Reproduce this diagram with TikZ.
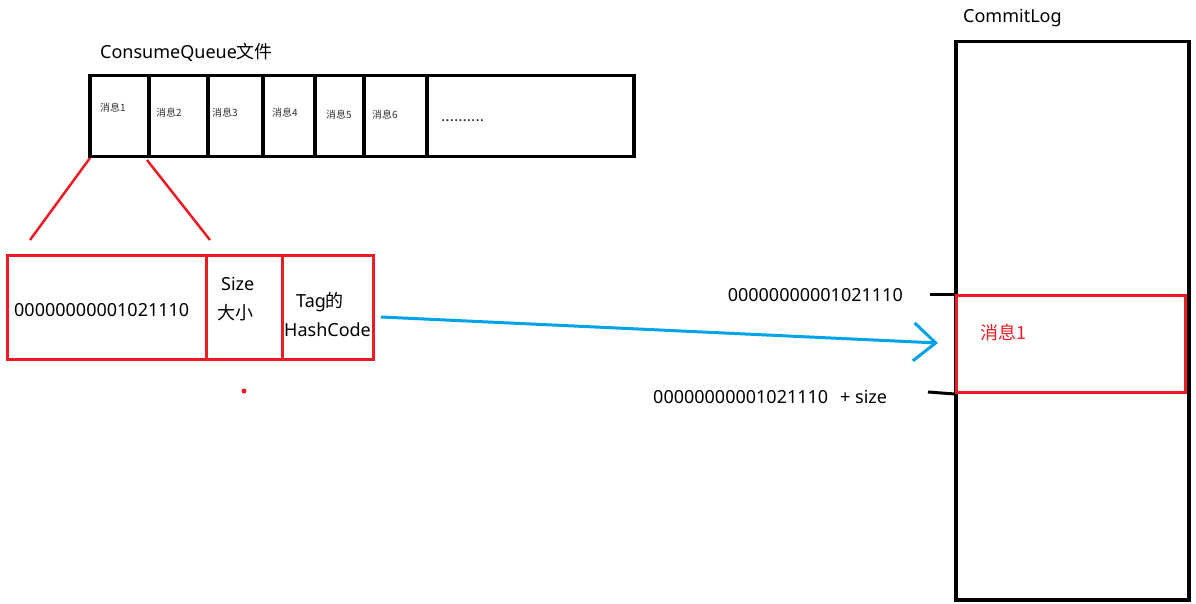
\documentclass[tikz,border=0pt]{standalone}
\usepackage{fontspec}
\setmainfont{Noto Sans}
\newfontfamily\cjk{Noto Sans CJK SC}
\usetikzlibrary{arrows.meta}
\definecolor{pred}{RGB}{237,28,36}
\definecolor{pblue}{RGB}{0,162,232}
\tikzset{
  qcell/.style={draw=black,line width=3.5pt,inner sep=0pt,minimum height=81pt,anchor=north west},
  rcell/.style={draw=pred,line width=3pt,inner sep=0pt,minimum height=104pt,anchor=north west},
  lbl/.style={inner sep=0pt,anchor=west,font=\fontsize{18}{20}\selectfont},
  small/.style={inner sep=0pt,anchor=west,font=\fontsize{10}{12}\selectfont,text=black!80},
  redline/.style={draw=pred,line width=2.5pt},
  tick/.style={draw=black,line width=3pt}
}
\begin{document}
\begin{tikzpicture}[x=1pt,y=-1pt]
\useasboundingbox[fill=white] (0,0) rectangle (1196,604);
% ConsumeQueue
\node[lbl] (cqt) at (100,52) {ConsumeQueue{\cjk 文件}};
\node[qcell,minimum width=59pt] (q1) at (88,74) {};
\node[qcell,minimum width=59pt] (q2) at (147,74) {};
\node[qcell,minimum width=55pt] (q3) at (206,74) {};
\node[qcell,minimum width=52pt] (q4) at (261,74) {};
\node[qcell,minimum width=49pt] (q5) at (313,74) {};
\node[qcell,minimum width=63pt] (q6) at (362,74) {};
\node[qcell,minimum width=207pt] (q7) at (425,74) {};
\node[small] (m1) at (100,108) {\cjk 消息1};
\node[small] (m2) at (156,113) {\cjk 消息2};
\node[small] (m3) at (212,113) {\cjk 消息3};
\node[small] (m4) at (272,113) {\cjk 消息4};
\node[small] (m5) at (326,115) {\cjk 消息5};
\node[small] (m6) at (372,115) {\cjk 消息6};
\node[small,font=\fontsize{16}{18}\selectfont] (dots) at (441,121) {..........};
% red detail
\node[rcell,minimum width=199pt] (r1) at (6,254) {};
\node[rcell,minimum width=76pt] (r2) at (205,254) {};
\node[rcell,minimum width=91pt] (r3) at (281,254) {};
\coordinate (la) at (90,158);
\coordinate (lb) at (30,240);
\coordinate (lc) at (147,160);
\coordinate (ld) at (210,240);
\draw[redline] (la) -- (lb);
\draw[redline] (lc) -- (ld);
\node[lbl] (off) at (14,310) {00000000001021110};
\node[lbl] (sz) at (221,284) {Size};
\node[lbl] (dx) at (217,313) {\cjk 大小};
\node[lbl] (tag) at (296,302) {Tag{\cjk 的}};
\node[lbl] (hc) at (284,330) {HashCode};
\fill[pred] (244,391) circle (2.5pt);
% CommitLog
\node[lbl] (clt) at (963,18) {CommitLog};
\node[draw=black,line width=3.5pt,inner sep=0pt,minimum width=233pt,minimum height=558pt,anchor=north west] (cl) at (954,40) {};
\node[draw=pred,line width=3pt,inner sep=0pt,minimum width=229pt,minimum height=97pt,anchor=north west] (msg) at (955,294) {};
\node[lbl,text=pred] (msgt) at (980,333) {\cjk 消息1};
\coordinate (t1) at (930,294);
\coordinate (t2) at (928,392);
\draw[tick] (t1) -- (msg.north west);
\draw[tick] (t2) -- (msg.south west);
\node[lbl,anchor=east] (o1) at (903,295) {00000000001021110};
\node[lbl] (o2) at (653,397) {00000000001021110\hspace{12pt}+ size};
% arrow
\coordinate (as) at (381,317);
\coordinate (ae) at (938,343);
\draw[pblue,line width=3pt,-{Straight Barb[length=22pt,width=38pt,line width=3pt]}] (as) -- (ae);
\end{tikzpicture}
\end{document}
